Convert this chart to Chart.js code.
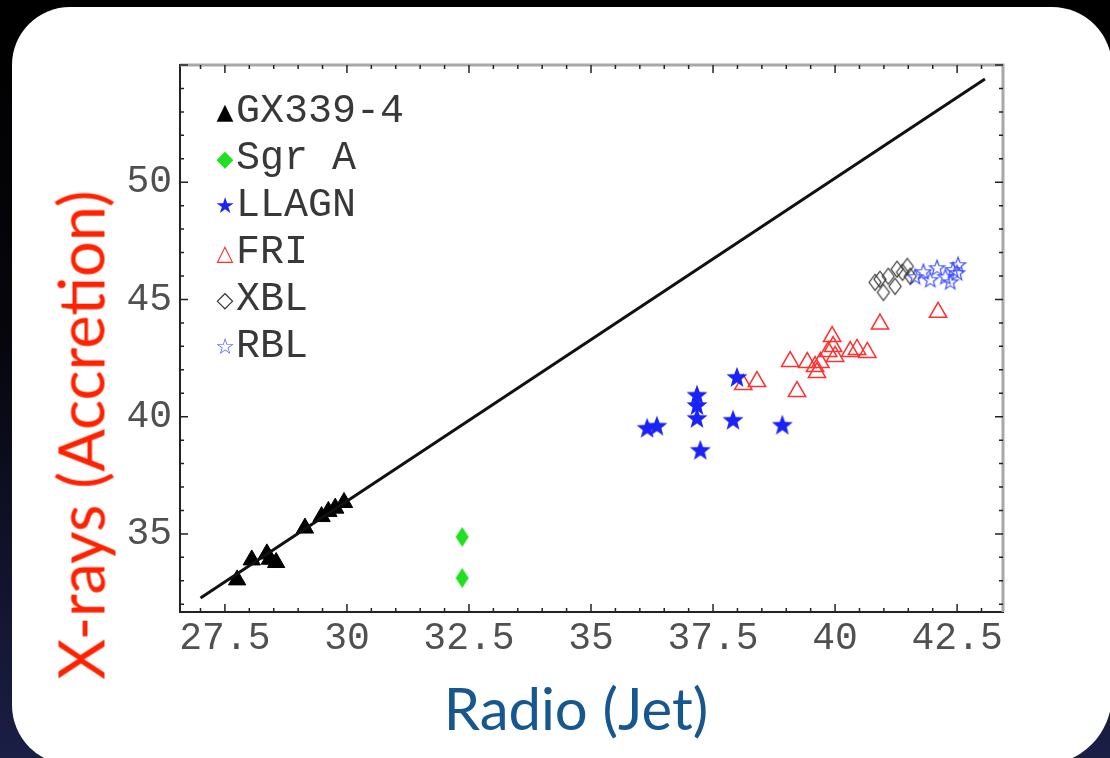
<!DOCTYPE html>
<html>
<head>
<meta charset="utf-8">
<script src="https://cdn.jsdelivr.net/npm/chart.js@4.4.1/dist/chart.umd.min.js"></script>
<style>
html, body { margin: 0; padding: 0; }
body {
    width: 1110px; height: 758px; overflow: hidden; position: relative;
    background: linear-gradient(180deg, #000 0%, #06060c 45%, #1b1e45 100%);
}
#panel {
    position: absolute; left: 12px; top: 7px; width: 1100px; height: 758px;
    background: #fff; border-radius: 58px 60px 70px 60px;
}
#chart { position: absolute; left: 0; top: 0; }
#legend {
    position: absolute; left: 214px; top: 88px;
    font-family: 'Liberation Mono', monospace; font-size: 40px; color: #383838;
}
.legend-item { height: 47px; line-height: 47px; white-space: nowrap; }
.legend-sym {
    display: inline-block; width: 22px; text-align: center;
    font-family: 'DejaVu Sans', sans-serif; font-size: 22px; vertical-align: top;
}
#ytitle {
    position: absolute; left: 80px; top: 435px; white-space: nowrap;
    transform: translate(-50%, -50%) rotate(-90deg);
    font-family: Lato, sans-serif; font-size: 63px; color: #ff2200;
}
#xtitle {
    position: absolute; left: 576px; top: 707px; white-space: nowrap;
    transform: translate(-50%, -50%);
    font-family: Lato, sans-serif; font-size: 58px; color: #17578f;
}
</style>
</head>
<body>
<div id="panel"></div>
<canvas id="chart" width="1110" height="758"></canvas>
<div id="legend"></div>
<div id="ytitle">X-rays (Accretion)</div>
<div id="xtitle">Radio (Jet)</div>
<script>
// values
var seriesNames = ['GX339-4', 'Sgr A', 'LLAGN', 'FRI', 'XBL', 'RBL'];

var gxX = [27.75, 28.05, 28.36, 28.42, 28.55, 29.14, 29.48, 29.62, 29.76, 29.94];
var gxY = [33.04, 33.89, 34.15, 33.92, 33.78, 35.25, 35.74, 35.96, 36.10, 36.34];

var sgrX = [32.36, 32.36];
var sgrY = [34.87, 33.12];

var llagnX = [36.15, 36.35, 37.17, 37.17, 37.17, 37.24, 37.91, 38.92, 37.99];
var llagnY = [39.53, 39.62, 40.94, 40.50, 39.95, 38.59, 39.87, 39.66, 41.70];

var friX = [38.12, 38.40, 39.08, 39.22, 39.43, 39.59, 39.63, 39.70, 39.86, 39.94, 39.96, 40.00, 40.31, 40.45, 40.66, 40.92, 42.11];
var friY = [41.37, 41.50, 42.35, 41.07, 42.31, 42.14, 41.88, 42.31, 42.78, 43.42, 42.99, 42.57, 42.78, 42.87, 42.74, 43.95, 44.45];

var xblX = [40.82, 40.92, 40.99, 41.09, 41.23, 41.27, 41.38, 41.48, 41.54];
var xblY = [45.73, 45.86, 45.30, 45.99, 45.56, 46.29, 46.16, 46.41, 45.99];

var rblX = [41.64, 41.81, 41.95, 42.09, 42.26, 42.36, 42.42, 42.50, 42.52];
var rblY = [45.99, 46.20, 45.86, 46.37, 45.99, 45.77, 46.29, 46.16, 46.50];

var fitX = [27.0, 43.07];
var fitY = [32.27, 54.40];

var xTicks = [27.5, 30, 32.5, 35, 37.5, 40, 42.5];
var yTicks = [35, 40, 45, 50];

function pts(xs, ys) {
    return xs.map(function(x, i) { return {x: x, y: ys[i]}; });
}

function starImage(r, fill, stroke, lw) {
    var c = document.createElement('canvas');
    var s = Math.ceil(2 * r + 4);
    c.width = s; c.height = s;
    var g = c.getContext('2d');
    g.beginPath();
    for (var i = 0; i < 10; i++) {
        var rr = (i % 2 === 0) ? r : r * 0.42;
        var a = -Math.PI / 2 + i * Math.PI / 5;
        var px = s / 2 + rr * Math.cos(a), py = s / 2 + 1 + rr * Math.sin(a);
        if (i === 0) g.moveTo(px, py); else g.lineTo(px, py);
    }
    g.closePath();
    if (fill) { g.fillStyle = fill; g.fill(); }
    if (stroke) { g.strokeStyle = stroke; g.lineWidth = lw; g.stroke(); }
    return c;
}

function diamondImage(w, h, fill, stroke, lw) {
    var c = document.createElement('canvas');
    c.width = w + 4; c.height = h + 4;
    var g = c.getContext('2d');
    var cx = c.width / 2, cy = c.height / 2;
    g.beginPath();
    g.moveTo(cx, cy - h / 2);
    g.lineTo(cx + w / 2, cy);
    g.lineTo(cx, cy + h / 2);
    g.lineTo(cx - w / 2, cy);
    g.closePath();
    if (fill) { g.fillStyle = fill; g.fill(); }
    if (stroke) { g.strokeStyle = stroke; g.lineWidth = lw; g.stroke(); }
    return c;
}

// inward tick marks on all four sides + light top/right frame
var frameTicks = {
    id: 'frameTicks',
    afterDatasetsDraw: function(chart) {
        var ctx = chart.ctx, a = chart.chartArea;
        var xs = chart.scales.x, ys = chart.scales.y;
        ctx.save();
        ctx.strokeStyle = '#a8a8a8';
        ctx.lineWidth = 3;
        ctx.beginPath();
        ctx.moveTo(a.left, a.top);
        ctx.lineTo(a.right, a.top);
        ctx.lineTo(a.right, a.bottom);
        ctx.stroke();

        ctx.strokeStyle = '#222';
        ctx.lineWidth = 1.5;
        ctx.beginPath();
        for (var i = Math.ceil(xs.min * 2); i <= Math.floor(xs.max * 2); i++) {
            var px = xs.getPixelForValue(i / 2);
            var len = (i % 5 === 0) ? 8 : 4;
            ctx.moveTo(px, a.bottom); ctx.lineTo(px, a.bottom - len);
            ctx.moveTo(px, a.top); ctx.lineTo(px, a.top + len);
        }
        for (var j = Math.ceil(ys.min); j <= Math.floor(ys.max); j++) {
            var py = ys.getPixelForValue(j);
            var len2 = (j % 5 === 0) ? 8 : 4;
            ctx.moveTo(a.left, py); ctx.lineTo(a.left + len2, py);
            ctx.moveTo(a.right, py); ctx.lineTo(a.right - len2, py);
        }
        ctx.stroke();
        ctx.restore();
    }
};

var tickFont = {family: "'Liberation Mono', monospace", size: 38};

var chart = new Chart(document.getElementById('chart'), {
    type: 'scatter',
    data: {
        datasets: [
            {
                type: 'line',
                label: 'fit',
                data: pts(fitX, fitY),
                borderColor: '#111',
                borderWidth: 3,
                pointRadius: 0,
                fill: false
            },
            {
                label: seriesNames[0],
                data: pts(gxX, gxY),
                pointStyle: 'triangle',
                pointRadius: 10,
                backgroundColor: '#000',
                borderColor: '#000',
                borderWidth: 1
            },
            {
                label: seriesNames[1],
                data: pts(sgrX, sgrY),
                pointStyle: diamondImage(13, 20, '#1fe01f', null, 0)
            },
            {
                label: seriesNames[2],
                data: pts(llagnX, llagnY),
                pointStyle: starImage(11, '#1a22f5', null, 0)
            },
            {
                label: seriesNames[3],
                data: pts(friX, friY),
                pointStyle: 'triangle',
                pointRadius: 10,
                backgroundColor: 'rgba(255,255,255,0)',
                borderColor: '#ff3030',
                borderWidth: 1.5
            },
            {
                label: seriesNames[4],
                data: pts(xblX, xblY),
                pointStyle: diamondImage(12, 16, null, '#333', 1.2)
            },
            {
                label: seriesNames[5],
                data: pts(rblX, rblY),
                pointStyle: starImage(8, null, '#3a4cff', 1.2)
            }
        ]
    },
    options: {
        responsive: false,
        animation: false,
        layout: {padding: {left: 0, top: 65, right: 107, bottom: 0}},
        plugins: {
            legend: {display: false},
            tooltip: {enabled: false}
        },
        scales: {
            x: {
                type: 'linear',
                min: 26.58,
                max: 43.44,
                afterFit: function(s) { s.height = 146; },
                afterBuildTicks: function(s) {
                    s.ticks = xTicks.map(function(v) { return {value: v}; });
                },
                ticks: {font: tickFont, color: '#505050', padding: 4, maxRotation: 0, autoSkip: false},
                grid: {drawOnChartArea: false, drawTicks: false},
                border: {display: true, color: '#222', width: 2}
            },
            y: {
                type: 'linear',
                min: 31.67,
                max: 55.0,
                afterFit: function(s) { s.width = 180; },
                afterBuildTicks: function(s) {
                    s.ticks = yTicks.map(function(v) { return {value: v}; });
                },
                ticks: {font: tickFont, color: '#505050', padding: 8},
                grid: {drawOnChartArea: false, drawTicks: false},
                border: {display: true, color: '#222', width: 2}
            }
        }
    },
    plugins: [frameTicks]
});

// legend built from the series names
var symbols = [
    {ch: '\u25B2', color: '#000'},
    {ch: '\u25C6', color: '#1fe01f'},
    {ch: '\u2605', color: '#1a22f5'},
    {ch: '\u25B3', color: '#ff3030'},
    {ch: '\u25C7', color: '#333'},
    {ch: '\u2606', color: '#3a4cff'}
];
var legend = document.getElementById('legend');
seriesNames.forEach(function(name, i) {
    var row = document.createElement('div');
    row.className = 'legend-item';
    var sym = document.createElement('span');
    sym.className = 'legend-sym';
    sym.style.color = symbols[i].color;
    sym.textContent = symbols[i].ch;
    row.appendChild(sym);
    row.appendChild(document.createTextNode(name));
    legend.appendChild(row);
});
</script>
</body>
</html>
